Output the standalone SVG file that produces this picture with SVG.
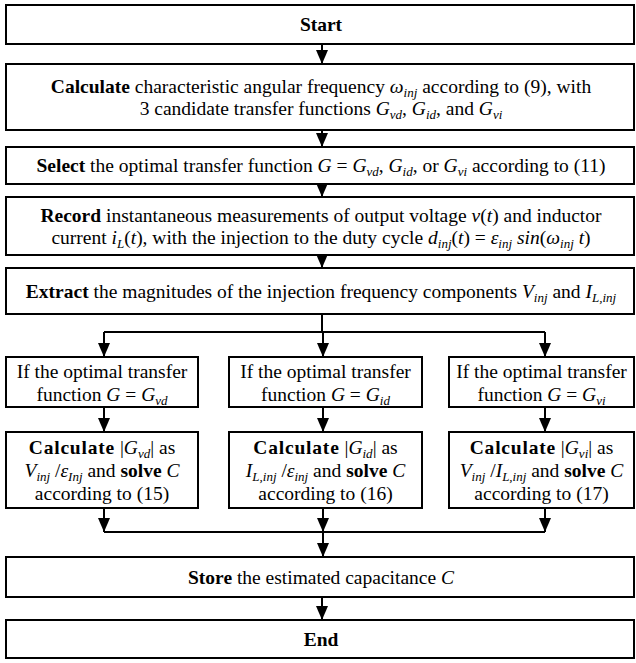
<svg xmlns="http://www.w3.org/2000/svg" width="636" height="663" viewBox="0 0 636 663">
<style>
.box{fill:#fff;stroke:#000;stroke-width:2}
.ln{fill:none;stroke:#000;stroke-width:2}
.t{font-family:"Liberation Serif","Times New Roman",serif;font-size:19.5px;fill:#000;text-anchor:middle}
.b{font-weight:bold}
.i{font-style:italic}
.s{font-size:13px;font-style:italic}
</style>
<defs>
<marker id="ah" viewBox="0 0 14 12" refX="14" refY="6" markerWidth="14" markerHeight="12" markerUnits="userSpaceOnUse" orient="auto">
<path d="M0,0 L14,6 L0,12 z" fill="#000"/>
</marker>
</defs>
<rect width="636" height="663" fill="#fff"/>
<g id="connectors">
<path class="ln" d="M322,44 V64" marker-end="url(#ah)"/>
<path class="ln" d="M322,130 V147" marker-end="url(#ah)"/>
<path class="ln" d="M322,184 V197" marker-end="url(#ah)"/>
<path class="ln" d="M322,255 V268" marker-end="url(#ah)"/>
<path class="ln" d="M322,314 V332 M104,332 H545"/>
<path class="ln" d="M104,332 V357" marker-end="url(#ah)"/>
<path class="ln" d="M323,332 V357" marker-end="url(#ah)"/>
<path class="ln" d="M545,332 V357" marker-end="url(#ah)"/>
<path class="ln" d="M104,407 V432" marker-end="url(#ah)"/>
<path class="ln" d="M323,407 V432" marker-end="url(#ah)"/>
<path class="ln" d="M545,407 V432" marker-end="url(#ah)"/>
<path class="ln" d="M104,508 V532" marker-end="url(#ah)"/>
<path class="ln" d="M323,508 V532" marker-end="url(#ah)"/>
<path class="ln" d="M545,508 V532" marker-end="url(#ah)"/>
<path class="ln" d="M104,532 H545"/>
<path class="ln" d="M323,532 V557" marker-end="url(#ah)"/>
<path class="ln" d="M322,597 V620" marker-end="url(#ah)"/>
</g>
<g id="start">
<rect class="box" x="6" y="5" width="628" height="39"/>
<text class="t b" x="321" y="31">Start</text>
</g>
<g id="calculate">
<rect class="box" x="6" y="64" width="628" height="66"/>
<text class="t" x="321" y="92.5"><tspan class="b">Calculate</tspan> characteristic angular frequency <tspan class="i">ω</tspan><tspan class="s" dy="4">inj</tspan><tspan dy="-4"> according to (9), with</tspan></text>
<text class="t" x="321" y="114.5">3 candidate transfer functions <tspan class="i">G</tspan><tspan class="s" dy="4">vd</tspan><tspan dy="-4">, </tspan><tspan class="i">G</tspan><tspan class="s" dy="4">id</tspan><tspan dy="-4">, and </tspan><tspan class="i">G</tspan><tspan class="s" dy="4">vi</tspan></text>
</g>
<g id="select">
<rect class="box" x="6" y="147" width="628" height="37"/>
<text class="t" x="321" y="172"><tspan class="b">Select</tspan> the optimal transfer function <tspan class="i">G</tspan> = <tspan class="i">G</tspan><tspan class="s" dy="4">vd</tspan><tspan dy="-4">, </tspan><tspan class="i">G</tspan><tspan class="s" dy="4">id</tspan><tspan dy="-4">, or </tspan><tspan class="i">G</tspan><tspan class="s" dy="4">vi</tspan><tspan dy="-4"> according to (11)</tspan></text>
</g>
<g id="record">
<rect class="box" x="6" y="197" width="628" height="58"/>
<text class="t" x="321" y="221.5"><tspan class="b">Record</tspan> instantaneous measurements of output voltage <tspan class="i">v</tspan>(<tspan class="i">t</tspan>) and inductor</text>
<text class="t" x="321" y="243.5">current <tspan class="i">i</tspan><tspan class="s" dy="4">L</tspan><tspan dy="-4">(</tspan><tspan class="i">t</tspan>), with the injection to the duty cycle <tspan class="i">d</tspan><tspan class="s" dy="4">inj</tspan><tspan dy="-4">(</tspan><tspan class="i">t</tspan>) = <tspan class="i">ε</tspan><tspan class="s" dy="4">inj</tspan><tspan dy="-4"> </tspan><tspan class="i">sin</tspan>(<tspan class="i">ω</tspan><tspan class="s" dy="4">inj</tspan><tspan dy="-4"> </tspan><tspan class="i">t</tspan>)</text>
</g>
<g id="extract">
<rect class="box" x="6" y="268" width="628" height="46"/>
<text class="t" x="321" y="297.5"><tspan class="b">Extract</tspan> the magnitudes of the injection frequency components <tspan class="i">V</tspan><tspan class="s" dy="4">inj</tspan><tspan dy="-4"> and </tspan><tspan class="i">I</tspan><tspan class="s" dy="4">L,inj</tspan></text>
</g>
<g id="if-gvd">
<rect class="box" x="6" y="357" width="192" height="50"/>
<text class="t" x="102" y="377.5">If the optimal transfer</text>
<text class="t" x="102" y="400.5">function <tspan class="i">G</tspan> = <tspan class="i">G</tspan><tspan class="s" dy="4">vd</tspan></text>
</g>
<g id="if-gid">
<rect class="box" x="229" y="357" width="193" height="50"/>
<text class="t" x="325.5" y="377.5">If the optimal transfer</text>
<text class="t" x="325.5" y="400.5">function <tspan class="i">G</tspan> = <tspan class="i">G</tspan><tspan class="s" dy="4">id</tspan></text>
</g>
<g id="if-gvi">
<rect class="box" x="449" y="357" width="185" height="50"/>
<text class="t" x="541.5" y="377.5">If the optimal transfer</text>
<text class="t" x="541.5" y="400.5">function <tspan class="i">G</tspan> = <tspan class="i">G</tspan><tspan class="s" dy="4">vi</tspan></text>
</g>
<g id="calc-gvd">
<rect class="box" x="6" y="432" width="192" height="76"/>
<text class="t" x="102" y="453.5"><tspan class="b" letter-spacing="0.8">Calculate</tspan> |<tspan class="i">G</tspan><tspan class="s" dy="4">vd</tspan><tspan dy="-4">| as</tspan></text>
<text class="t" x="102" y="476.5"><tspan class="i">V</tspan><tspan class="s" dy="4">inj</tspan><tspan dy="-4"> /</tspan><tspan class="i">ε</tspan><tspan class="s" dy="4">Inj</tspan><tspan dy="-4"> and </tspan><tspan class="b">solve</tspan> <tspan class="i">C</tspan></text>
<text class="t" x="102" y="499.5">according to (15)</text>
</g>
<g id="calc-gid">
<rect class="box" x="229" y="432" width="193" height="76"/>
<text class="t" x="325.5" y="453.5"><tspan class="b" letter-spacing="0.8">Calculate</tspan> |<tspan class="i">G</tspan><tspan class="s" dy="4">id</tspan><tspan dy="-4">| as</tspan></text>
<text class="t" x="325.5" y="476.5"><tspan class="i">I</tspan><tspan class="s" dy="4">L,inj</tspan><tspan dy="-4"> /</tspan><tspan class="i">ε</tspan><tspan class="s" dy="4">inj</tspan><tspan dy="-4">  and </tspan><tspan class="b">solve</tspan> <tspan class="i">C</tspan></text>
<text class="t" x="325.5" y="499.5">according to (16)</text>
</g>
<g id="calc-gvi">
<rect class="box" x="449" y="432" width="185" height="76"/>
<text class="t" x="541.5" y="453.5"><tspan class="b" letter-spacing="0.8">Calculate</tspan> |<tspan class="i">G</tspan><tspan class="s" dy="4">vi</tspan><tspan dy="-4">| as</tspan></text>
<text class="t" x="541.5" y="476.5"><tspan class="i">V</tspan><tspan class="s" dy="4">inj</tspan><tspan dy="-4"> /</tspan><tspan class="i">I</tspan><tspan class="s" dy="4">L,inj</tspan><tspan dy="-4"> and </tspan><tspan class="b">solve</tspan> <tspan class="i">C</tspan></text>
<text class="t" x="541.5" y="499.5">according to (17)</text>
</g>
<g id="store">
<rect class="box" x="6" y="557" width="628" height="40"/>
<text class="t" x="321" y="583.5"><tspan class="b">Store</tspan> the estimated capacitance <tspan class="i">C</tspan></text>
</g>
<g id="end">
<rect class="box" x="6" y="620" width="628" height="38"/>
<text class="t b" x="321" y="645.5">End</text>
</g>
</svg>
